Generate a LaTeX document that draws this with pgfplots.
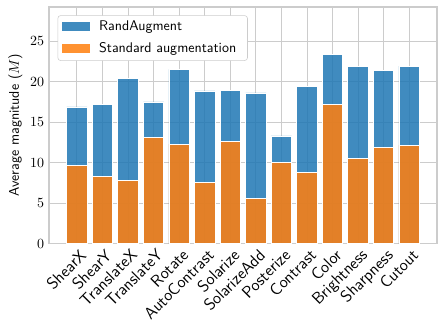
\documentclass[border=0pt]{standalone}
\usepackage{pgfplots}
\pgfplotsset{compat=1.18}
\renewcommand{\familydefault}{\sfdefault}
\definecolor{tabblue}{HTML}{1F77B4}
\definecolor{taborange}{HTML}{FF7F0E}
\definecolor{gridgray}{gray}{0.8}

\begin{document}
\begin{tikzpicture}
\begin{axis}[
    scale only axis,
    width=277pt, height=169pt,
    xmin=-1.09, xmax=14.09,
    ymin=0, ymax=29.2,
    xtick={0,...,13},
    xticklabels={ShearX,ShearY,TranslateX,TranslateY,Rotate,AutoContrast,Solarize,SolarizeAdd,Posterize,Contrast,Color,Brightness,Sharpness,Cutout},
    x tick label style={rotate=45, anchor=north east, font=\fontsize{11.8}{13}\selectfont\sffamily, inner sep=1pt, yshift=-2pt},
    ytick={0,5,...,25},
    ylabel={Average magnitude ($M$)},
    ylabel style={font=\sffamily, at={(axis description cs:-0.087,0.5)}, anchor=center},
    grid=major,
    major grid style={gridgray, line width=0.6pt},
    axis line style={gridgray, line width=0.8pt},
    major tick length=0pt,
    tick style={draw=none},
    ybar, bar width=0.8, bar shift=0pt,
    legend cell align=left,
    legend style={draw=gridgray, rounded corners=2pt, font=\sffamily,
        at={(0.022,0.965)}, anchor=north west, row sep=3pt,
        inner xsep=2pt, inner ysep=2pt,
        nodes={inner xsep=6pt}},
    legend image code/.code={\fill[#1, sharp corners] (-2pt,-3.3pt) rectangle (19pt,3.8pt);},
]
\addplot[fill=tabblue, fill opacity=0.85, draw=white, line width=0.5pt] coordinates {
(0,16.87) (1,17.15) (2,20.4) (3,17.5) (4,21.5) (5,18.85) (6,18.95) (7,18.6)
(8,13.3) (9,19.4) (10,23.3) (11,21.85) (12,21.35) (13,21.9)
};
\addlegendentry{RandAugment}
\addplot[fill=taborange, fill opacity=0.85, draw=white, line width=0.5pt] coordinates {
(0,9.7) (1,8.33) (2,7.8) (3,13.15) (4,12.3) (5,7.55) (6,12.6) (7,5.57)
(8,10.0) (9,8.83) (10,17.2) (11,10.5) (12,11.9) (13,12.15)
};
\addlegendentry{Standard augmentation}
\end{axis}
\pgfresetboundingbox
\useasboundingbox ([shift={(-35pt,-59.3pt)}]current axis.south west) rectangle ([shift={(5.7pt,5pt)}]current axis.north east);
\end{tikzpicture}
\end{document}
